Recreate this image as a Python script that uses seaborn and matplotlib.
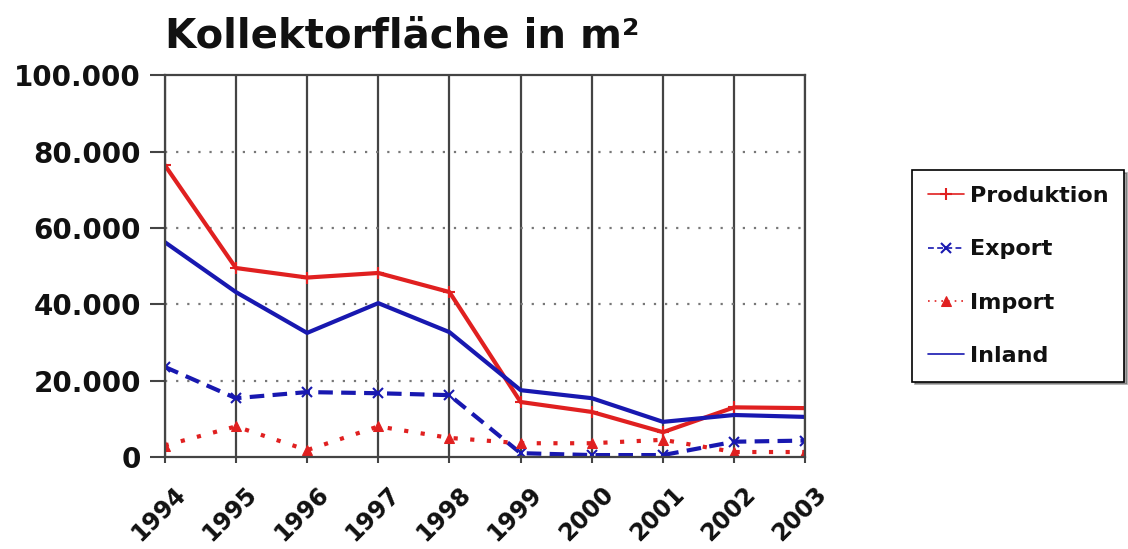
import numpy as np
import pandas as pd
import matplotlib
matplotlib.use("Agg")
import matplotlib.pyplot as plt
import matplotlib.transforms as mtransforms
import seaborn as sns
from matplotlib.ticker import FuncFormatter

years = [1994, 1995, 1996, 1997, 1998, 1999, 2000, 2001, 2002, 2003]
produktion = [76500, 49500, 47000, 48200, 43200, 14400, 11800, 6500, 13000, 12800]
export = [23600, 15400, 17000, 16700, 16200, 1000, 500, 500, 4000, 4300]
importe = [3000, 8000, 1800, 8000, 5000, 3600, 3600, 4500, 1300, 1300]
inland = [56300, 43200, 32500, 40300, 32700, 17500, 15400, 9200, 11000, 10500]

sns.set_theme(style="white")
plt.rcParams['font.family'] = ['DejaVu Sans']
plt.rcParams['text.color'] = '#111111'
plt.rcParams['xtick.color'] = '#111111'
plt.rcParams['ytick.color'] = '#111111'

red = "#e02020"
blue = "#1818b0"

fig = plt.figure(figsize=(11.28, 5.49), dpi=100)
ax = fig.add_axes([0.146, 0.1676, 0.568, 0.6954])

sns.lineplot(x=years, y=produktion, ax=ax, color=red, lw=3, marker="+", ms=9,
             mew=1.5, mec=red, legend=False)
sns.lineplot(x=years, y=export, ax=ax, color=blue, lw=3, marker="x", ms=7,
             mew=1.5, mec=blue, legend=False, linestyle=(0, (3.5, 2)))
sns.lineplot(x=years, y=importe, ax=ax, color=red, lw=3, marker="^", ms=7,
             mec=red, legend=False, linestyle=(0, (1, 3)))
sns.lineplot(x=years, y=inland, ax=ax, color=blue, lw=3, legend=False)

ax.set_xlim(1994, 2003)
ax.set_ylim(0, 100000)
ax.set_xticks(years)
ax.set_yticks([0, 20000, 40000, 60000, 80000, 100000])
ax.yaxis.set_major_formatter(FuncFormatter(lambda v, p: "0" if v == 0 else f"{int(v):,}".replace(",", ".")))

for yv in years:
    ax.axvline(yv, color="#444444", lw=1.6, zorder=0)
for yv in [20000, 40000, 60000, 80000]:
    ax.axhline(yv, color="#777777", lw=1.6, ls=(0, (1, 4)), zorder=0)

for s in ax.spines.values():
    s.set_color("#444444")
    s.set_linewidth(1.6)

ax.tick_params(axis="y", left=True, length=11, width=1.5, color="#444444",
               labelsize=20, pad=6)
ax.tick_params(axis="x", bottom=True, length=4, width=1.5, color="#444444",
               labelsize=17, pad=14)
for lab in ax.get_yticklabels():
    lab.set_fontweight("bold")
offset = mtransforms.ScaledTranslation(0.09, 0, fig.dpi_scale_trans)
for lab in ax.get_xticklabels():
    lab.set_rotation(45)
    lab.set_ha("right")
    lab.set_va("top")
    lab.set_rotation_mode("anchor")
    lab.set_fontweight("bold")
    lab.set_transform(lab.get_transform() + offset)

ax.set_title("Kollektorfläche in m²", fontsize=29, fontweight="bold", loc="left",
             pad=20)

lines = ax.get_lines()[:4]
leg = ax.legend(lines, ["Produktion", "Export", "Import", "Inland"],
                loc="center left", bbox_to_anchor=(1.167, 0.474), frameon=True,
                fancybox=False, shadow=True, edgecolor="black",
                prop={"size": 16, "weight": "bold"}, handlelength=1.6,
                handletextpad=0.3, labelspacing=1.5, borderpad=0.7,
                borderaxespad=0)
leg.get_frame().set_linewidth(1.2)
for h in leg.get_lines():
    h.set_linewidth(1.2)

fig.savefig("out.png", dpi=100)
